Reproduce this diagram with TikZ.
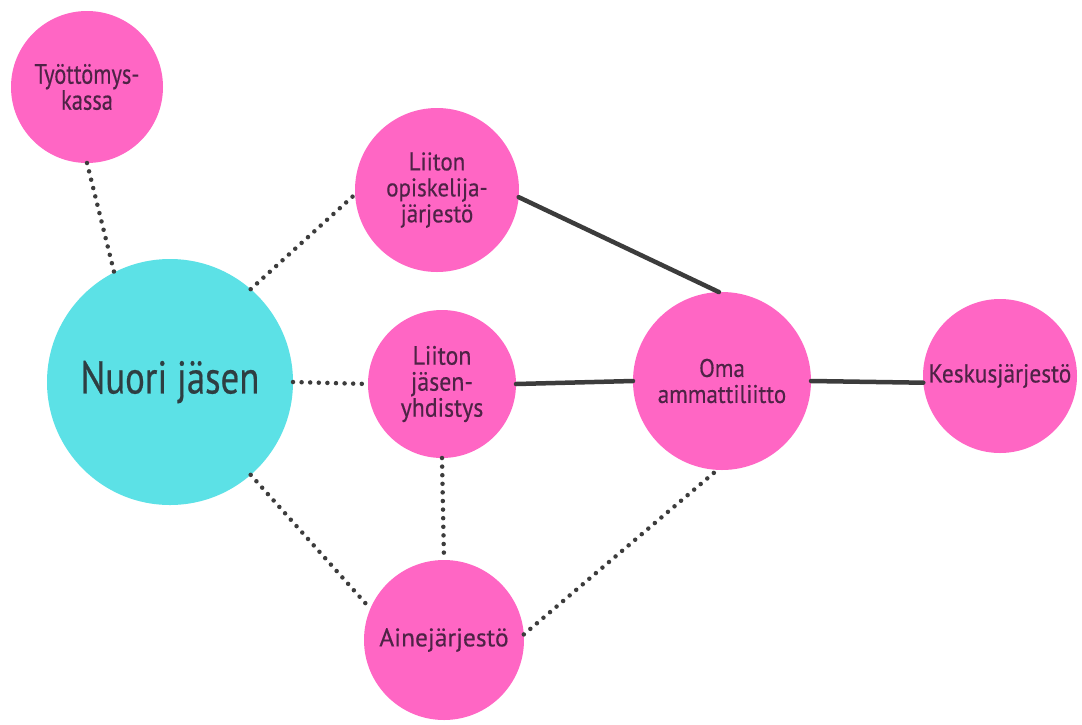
\documentclass[tikz,border=0pt]{standalone}
\usepackage{fontspec}
\newfontfamily\narrowfont[FakeStretch=0.8, FakeBold=0.4]{PT Sans}
\newfontfamily\midfont[FakeStretch=0.9, FakeBold=0.4]{PT Sans}
\newfontfamily\widefont[FakeBold=0.4]{PT Sans}
\definecolor{bubble}{HTML}{FF66C4}
\definecolor{member}{HTML}{5CE1E6}
\definecolor{ink}{HTML}{4E2346}
\definecolor{slate}{HTML}{2E3E42}
\definecolor{wire}{HTML}{3C3C3C}

\tikzset{
  org/.style={circle, fill=bubble, inner sep=0pt, outer sep=0pt,
    minimum size=#1, text=ink, align=center},
  person/.style={circle, fill=member, inner sep=0pt, outer sep=0pt,
    minimum size=#1, text=slate, align=center},
  link/.style={draw=wire, line width=4.5pt, line cap=round},
  loose/.style={draw=wire, line width=4.5pt, line cap=round,
    dash pattern=on 0pt off 8.6pt},
}

\begin{document}
\begin{tikzpicture}[x=1pt, y=-1pt]
  \useasboundingbox (0,0) rectangle (1082,724);
  \fill[white] (0,0) rectangle (1082,724);

  % organisations around the member
  \node[org=152pt, font={\narrowfont\fontsize{28}{26}\selectfont}] (kassa) at (87,87) {Työttömys-\\kassa};
  \node[person=246pt, font={\narrowfont\fontsize{46}{50}\selectfont}] (nuori) at (170,382) {Nuori jäsen};
  \node[org=164pt, font={\midfont\fontsize{25.5}{26}\selectfont}] (opisk) at (437,190) {Liiton\\opiskelija-\\järjestö};
  \node[org=148pt, font={\midfont\fontsize{26.5}{26}\selectfont}] (jasen) at (442,384) {Liiton\\jäsen-\\yhdistys};
  \node[org=178pt, font={\midfont\fontsize{25.5}{26}\selectfont}] (oma) at (722,381) {Oma\\ammattiliitto};
  \node[org=154pt, font={\midfont\fontsize{26}{26}\selectfont}] (kes) at (1000,376) {Keskusjärjestö};
  \node[org=160pt, font={\widefont\fontsize{25.5}{26}\selectfont}] (aine) at (444,640) {Ainejärjestö};

  % loose ties
  \draw[loose] (kassa.-90) -- (nuori.117);
  \draw[loose] (nuori.49) -- (opisk.183);
  \draw[loose] (nuori.0) -- (jasen.180);
  \draw[loose] (nuori.-49) -- (aine.157);
  \draw[loose] (jasen.-90) -- (aine.90);
  \draw[loose] (aine.4) -- (oma.-93);

  % formal membership
  \draw[link] (opisk.-5) -- (oma.92);
  \draw[link] (jasen.0) -- (oma.180);
  \draw[link] (oma.0) -- (kes.185);
\end{tikzpicture}
\end{document}
